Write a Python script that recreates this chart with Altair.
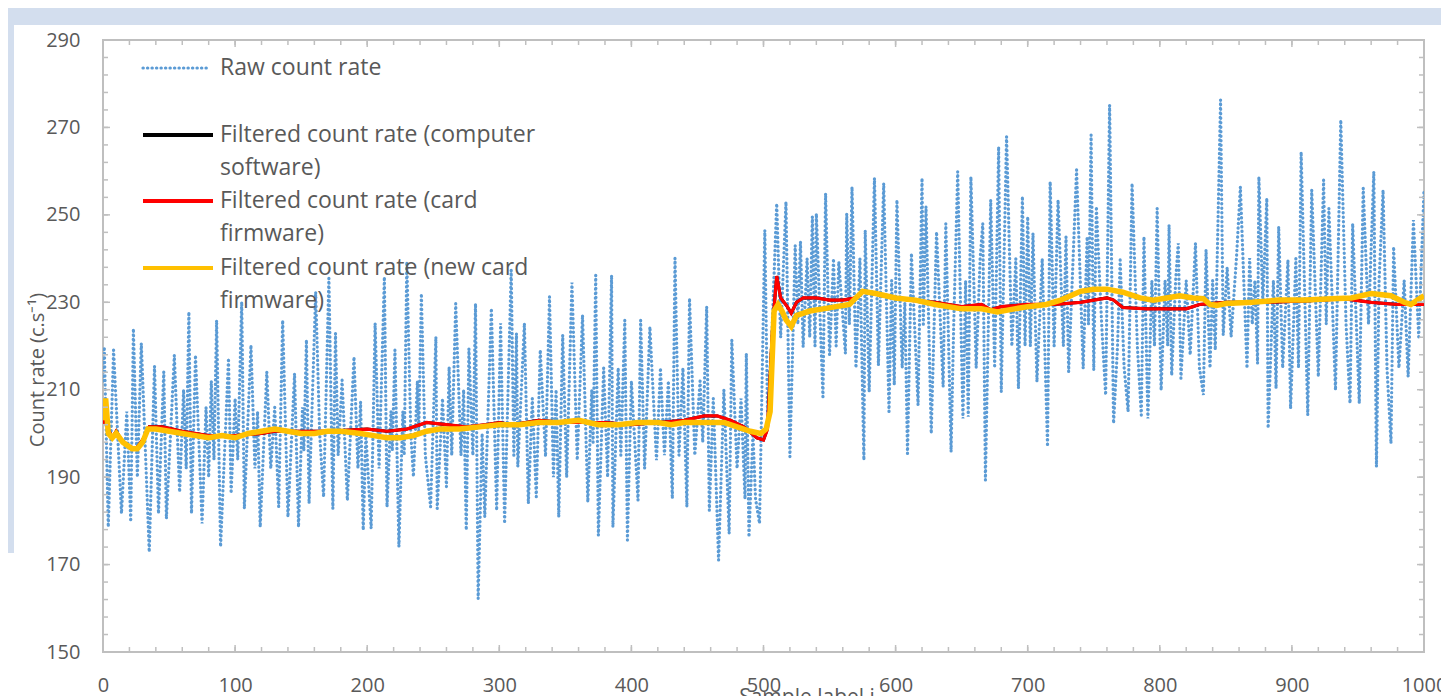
import altair as alt
import pandas as pd

# ---------------- data ----------------
raw_x = [0, 1, 4, 8, 14, 18, 21, 23, 26, 29, 35, 39, 42, 46, 48, 54, 58, 61, 63, 65, 67, 70, 75, 78, 80, 82, 84, 86, 89, 95,
         97, 100, 102, 105, 107, 112, 115, 117, 119, 124, 127, 130, 133, 136, 140, 145, 148, 151, 152, 154, 156, 161, 164, 167,
         171, 174, 176, 178, 181, 185, 190, 193, 195, 197, 199, 203, 206, 209, 213, 215, 218, 219, 221, 224, 227, 228, 230, 233,
         235, 238, 239, 241, 244, 248, 252, 253, 257, 260, 262, 264, 267, 271, 273, 275, 277, 280, 282, 284, 287, 289, 294, 298,
         301, 304, 309, 311, 313, 314, 319, 322, 325, 328, 331,
         335, 338, 341, 343, 345, 348, 351, 355, 359, 363, 367, 370, 371, 373, 375, 379, 382, 385, 386, 390, 392, 395, 397, 400,
         405, 407, 410, 414, 419, 422, 425, 428, 431, 433, 436, 439, 442, 444, 448, 452, 454, 457, 459, 462, 466, 470, 474, 476,
         480, 483, 486, 487, 489, 492, 494, 497, 501, 503,
         506, 510, 513, 517, 520, 524, 526, 528, 530, 533, 535, 537, 539, 540, 545, 547, 550, 553, 555, 557, 562, 563, 565, 567,
         570, 573, 576, 577, 580, 584, 587, 591, 595, 597, 599, 601, 605, 607, 609, 612, 617, 620, 621, 623, 627, 631, 636, 638,
         642, 644, 647, 651, 653, 655, 657, 661, 664, 666, 668,
         672, 675, 678, 680, 684, 688, 691, 693, 696, 698, 700, 702, 704, 707, 711, 715, 717, 720, 723, 727, 729, 731, 737, 742,
         745, 746, 748, 750, 752, 756, 759, 762, 765, 768, 770, 773, 776, 779, 783, 786, 788, 791, 794, 796, 798, 801, 804, 806,
         807, 809, 812, 814, 816, 820, 823, 827, 830, 833,
         835, 838, 840, 842, 846, 848, 851, 854, 858, 861, 866, 868, 870, 872, 874, 875, 878, 881, 882, 886, 888, 890, 893, 897,
         899, 903, 905, 907, 912, 915, 920, 924, 926, 928, 933, 937, 941, 944, 946, 951, 954, 958, 962, 964, 966, 969, 972, 975,
         977, 981, 985, 988, 992, 996, 1000]
raw_y = [212, 219.8, 178.6, 219.1, 181.7, 205, 179.8, 224.0, 190, 220.6, 172.9, 215.4, 181.7, 214.1, 180.5, 217.9, 186.6, 210,
         192, 227.8, 181.7, 217.9, 179.4, 206, 190, 212, 194, 225.9, 174.1, 217.2,
         186.3, 208, 194, 230.1, 182.8, 220.2, 192, 205, 178.6, 214.1, 192, 206, 183.2, 225.9, 180.9, 213.7, 178.6, 206, 196,
         221.4, 184.0, 232.4, 200, 185.5,
         235.5, 182.8, 222.9, 195, 212.2, 184.7, 217.5, 192, 207.2, 177.9, 200, 178.3, 225.2, 192, 235.8, 183.2, 205, 196, 219.1,
         174.1, 205, 195, 239.3, 200,
         190.1, 212, 200, 232.0, 195, 183.2, 222.1, 182.8, 208, 187.8, 215.2, 195, 229.7, 195, 210, 177.9, 219.4, 195, 229.7,
         162.2, 200, 180.9, 228.6, 182.4,
         225.2, 179.4, 237.4, 195, 222.9, 192.4, 225.2, 184.0, 208, 185.5, 219.1,
         194.7, 231.3, 190, 210, 180.9, 222.5, 190, 234.5, 193.9, 227.1, 184.3, 210, 198, 236.2, 176.7, 215, 190, 236.2, 178.6,
         215, 195, 225.9, 175.6, 212,
         184.7, 225.9, 192, 224.4, 193.9, 215, 195, 212, 185.1, 240.1, 195, 215, 183.2, 230.9, 195, 212, 198, 229.0, 182.4, 208,
         171.0, 210, 177.1, 221.4,
         192, 208, 185, 218.3, 176.3, 200, 185, 179.4, 246.5, 205,
         220, 252.6, 222, 253.0, 194.7, 243.0, 225, 243.9, 219.8, 240, 222, 249.6, 220, 250.3, 208.4, 254.9, 218, 240, 220, 239.3,
         218.3, 250.3, 225, 256.4,
         215, 240, 193.9, 246.5, 209.5, 258.4, 215.6, 257.2, 205.0, 235, 211.1, 253.4, 215, 230, 195.4, 241.2, 206.5, 258.4, 225,
         251.9, 200.0, 246.1, 210.7, 248.0,
         195.8, 225, 259.9, 203.4, 235, 203.8, 258.7, 215, 240, 248.0, 189.3,
         253.4, 215, 265.6, 209.5, 267.9, 220, 240, 210.3, 254.2, 220, 249.6, 220, 245.8, 211.8, 240, 197.0, 257.6, 220, 253.4,
         220, 245.0, 214.1, 260.3, 214.9,
         245, 225, 268.3, 214.5, 251.9, 225, 208.8, 275.1, 202.3, 220, 239.7, 215, 205.0, 257.2, 220, 204.2, 245.0, 203.4, 235,
         220, 251.5, 209.9, 235, 220,
         247.7, 213.3, 235, 243.5, 212.6, 235, 218, 243.5, 215, 208.8,
         242.0, 215, 235, 219.1, 276.3, 222.5, 238, 222.1, 240, 256.4, 214.9, 240.1, 225, 235, 216.0, 258.7, 230, 253.8, 201.2,
         235, 210.3, 247.3, 215, 239.7,
         205.7, 240, 215, 264.4, 204.2, 255.7, 213.0, 258.0, 225, 251.5, 209.9, 271.7, 225, 206.9, 248.0, 206.9, 256.1, 225,
         259.9, 192.4, 235, 255.7, 215, 197.7,
         242.7, 215, 235, 213.0, 248.8, 222.1, 255.7]

card_x = [0, 2, 4, 7, 10, 14, 20, 25, 30, 35, 45, 60, 80, 100, 120, 130, 150, 170, 200, 215,
          230, 245, 260, 275, 290, 300, 310, 320, 330, 350, 380, 400, 420, 440, 455, 465, 475, 485, 495, 500,
          503, 507, 510, 513, 518, 521, 525, 530, 540, 550, 560, 570, 575, 590, 610, 630, 650, 665, 672, 680,
          700, 720, 740, 760, 765, 772, 790, 820, 830, 850, 880, 910, 940, 960, 980, 1000]
card_y = [202, 207.5, 201, 199, 200.5, 198.5, 197, 196.5, 198.5, 201.5, 201.5, 200.5, 199.5, 199.5, 200, 200.5, 200.5,
          200.5, 201, 200.5,
          201, 202.5, 202, 201.5, 202, 202.5, 202, 202.5, 203, 202.5, 202.5, 202, 202.5, 203, 204, 204, 203, 201.5, 199,
          198.5,
          201, 225, 236, 231, 229, 227.5, 230, 231, 231, 230.5, 230.5, 231, 232.5, 231.5, 230.5, 230, 229, 229.5, 228.3, 229,
          229.5, 229.5, 230, 231, 230.5, 228.8, 228.5, 228.5, 229.5, 230, 230, 230.3, 230.8, 230, 229.5, 229.5]

# computer-software filter coincides with the card firmware one (hidden beneath it)
soft_x = list(card_x)
soft_y = list(card_y)

new_x = [0, 2, 4, 7, 10, 15, 22, 26, 30, 34, 40, 50, 60, 70, 80, 90, 100, 110, 120, 130, 140, 150, 160, 170, 180, 195,
         205, 215, 225, 235, 245, 255, 270, 285, 300, 315, 330, 345, 360, 375, 390, 405, 420, 430, 440, 455, 470, 480, 490,
         498, 502, 505, 508, 511, 514, 517, 521, 525, 535, 545, 555, 565, 570, 575, 585, 600, 615, 630, 650, 665, 677, 690,
         700, 714, 725, 740, 750, 760, 772, 785, 795, 805, 815, 825, 833, 838, 843, 850, 870, 890, 910, 930, 945, 960, 975,
         985, 990, 995, 1000]
new_y = [203, 208, 200, 199, 200, 198, 196.5, 196.5, 198, 201, 201, 200.5, 200, 199.5, 199, 199.5, 199, 200, 200.5, 201,
         200.5, 200, 200, 200.5, 200.5, 200,
         199.5, 199, 199, 199.5, 200.5, 201, 201, 201.5, 202, 202, 202.5, 202.5, 203, 202, 202, 202.5, 202.5, 202, 202.5,
         202.5, 202.5, 201.5, 200.5,
         200, 201, 205, 228, 229.5, 228, 226, 224.5, 227, 228, 228.5, 229, 229.5, 231, 232.5, 232, 231, 230.5, 229.5, 228.5,
         228.5, 227.8, 228.5,
         229, 229.5, 230.5, 232.5, 233, 233, 232.3, 231, 230.5, 231, 231.5, 231, 230.8, 229.5, 229.3, 229.7, 230, 230.5,
         230.5, 230.8, 231, 232, 231.5,
         230, 229.5, 230.5, 231.5]

x_label_values = list(range(0, 1001, 100))
y_label_values = list(range(150, 291, 20))
x_minor = list(range(0, 1001, 20))
y_minor = list(range(150, 291, 4))

# ---------------- styling ----------------
W, H = 1321, 612
GRAY = "#595959"
FRAME = "#BFBFBF"
FONT = "Open Sans"
BLUE = "#5B9BD5"
RED = "#FF0000"
GOLD = "#FFC000"
BAND = "#D3DEEE"

xs = alt.Scale(domain=[0, 1000], nice=False, zero=False)
ys = alt.Scale(domain=[150, 290], nice=False, zero=False)
x_axis = alt.Axis(values=x_label_values, title=None, domain=False, ticks=False, tickSize=0, grid=False,
                  format="d", labelFlush=False, labelOverlap=False,
                  labelFont=FONT, labelFontSize=20, labelColor=GRAY, labelPadding=23)
y_axis = alt.Axis(values=y_label_values, title=None, domain=False, ticks=False, tickSize=0, grid=False,
                  format="d", labelFlush=False, labelOverlap=False,
                  labelFont=FONT, labelFontSize=20, labelColor=GRAY, labelPadding=23)


def X(f):
    return alt.X(f, type="quantitative", scale=xs, axis=x_axis)


def Y(f):
    return alt.Y(f, type="quantitative", scale=ys, axis=y_axis)


one = pd.DataFrame({"k": [0]})

raw_df = pd.DataFrame({"i": raw_x, "v": raw_y})
soft_df = pd.DataFrame({"i": soft_x, "v": soft_y})
card_df = pd.DataFrame({"i": card_x, "v": card_y})
new_df = pd.DataFrame({"i": new_x, "v": new_y})

DOT = dict(color=BLUE, strokeWidth=3.2, strokeDash=[0.3, 4.2], strokeCap="round")
raw = alt.Chart(raw_df).mark_line(clip=True, **DOT).encode(x=X("i"), y=Y("v"))
soft = alt.Chart(soft_df).mark_line(color="#000000", strokeWidth=3, clip=True).encode(x=X("i"), y=Y("v"))
card = alt.Chart(card_df).mark_line(color=RED, strokeWidth=3.2, clip=True).encode(x=X("i"), y=Y("v"))
new = alt.Chart(new_df).mark_line(color=GOLD, strokeWidth=5.5, clip=True).encode(x=X("i"), y=Y("v"))

# inward tick marks on all four sides
xt = pd.DataFrame({"t": x_minor})
yt = pd.DataFrame({"t": y_minor})
xmaj = pd.DataFrame({"t": x_label_values})
ymaj = pd.DataFrame({"t": y_label_values})
tick_layers = [
    alt.Chart(xt).mark_rule(color=FRAME, strokeWidth=1.5).encode(x=X("t"), y=alt.value(H), y2=alt.value(H - 5)),
    alt.Chart(xmaj).mark_rule(color=FRAME, strokeWidth=1.5).encode(x=X("t"), y=alt.value(H), y2=alt.value(H - 7)),
    alt.Chart(xt).mark_rule(color=FRAME, strokeWidth=1.5).encode(x=X("t"), y=alt.value(0), y2=alt.value(5)),
    alt.Chart(xmaj).mark_rule(color=FRAME, strokeWidth=1.5).encode(x=X("t"), y=alt.value(0), y2=alt.value(7)),
    alt.Chart(yt).mark_rule(color=FRAME, strokeWidth=1.5).encode(y=Y("t"), x=alt.value(0), x2=alt.value(5)),
    alt.Chart(ymaj).mark_rule(color=FRAME, strokeWidth=1.5).encode(y=Y("t"), x=alt.value(0), x2=alt.value(7)),
    alt.Chart(yt).mark_rule(color=FRAME, strokeWidth=1.5).encode(y=Y("t"), x=alt.value(W), x2=alt.value(W - 5)),
    alt.Chart(ymaj).mark_rule(color=FRAME, strokeWidth=1.5).encode(y=Y("t"), x=alt.value(W), x2=alt.value(W - 7)),
]

# page decoration bands (blue-grey slide background)
band_top = alt.Chart(one).mark_rect(color=BAND).encode(
    x=alt.value(-95), x2=alt.value(W + 17), y=alt.value(-32), y2=alt.value(-15))
band_left = alt.Chart(one).mark_rect(color=BAND).encode(
    x=alt.value(-95), x2=alt.value(-89), y=alt.value(-15), y2=alt.value(513))

# legend (inside plot, top-left)
LX0, LX1, TX = 40, 110, 117
leg = [
    alt.Chart(one).mark_rule(**DOT).encode(x=alt.value(LX0), x2=alt.value(104), y=alt.value(28)),
    alt.Chart(one).mark_rule(color="#000000", strokeWidth=4).encode(x=alt.value(LX0), x2=alt.value(LX1), y=alt.value(95)),
    alt.Chart(one).mark_rule(color=RED, strokeWidth=4).encode(x=alt.value(LX0), x2=alt.value(LX1), y=alt.value(161)),
    alt.Chart(one).mark_rule(color=GOLD, strokeWidth=4).encode(x=alt.value(LX0), x2=alt.value(LX1), y=alt.value(228)),
]
leg_text = [("Raw count rate", 28), ("Filtered count rate (computer", 95), ("software)", 128),
            ("Filtered count rate (card", 161), ("firmware)", 194),
            ("Filtered count rate (new card", 228), ("firmware)", 261)]
for txt, yy in leg_text:
    leg.append(alt.Chart(one).mark_text(text=txt, align="left", baseline="middle", font=FONT, fontSize=23,
                                        color=GRAY).encode(x=alt.value(TX), y=alt.value(yy)))

y_title = alt.Chart(one).mark_text(text="Count rate (c.s⁻¹)", angle=270, align="center", baseline="middle",
                                   font=FONT, fontSize=20, color=GRAY).encode(x=alt.value(-65), y=alt.value(330))
x_title = alt.Chart(one).mark_text(text="Sample label i", align="center", baseline="top",
                                   font=FONT, fontSize=21, color=GRAY).encode(x=alt.value(704), y=alt.value(647))

chart = alt.layer(
    band_top, band_left, raw, soft, card, new, *tick_layers, *leg, y_title, x_title
).properties(
    width=W, height=H,
    autosize=alt.AutoSizeParams(type="none"),
    padding={"left": 95, "top": 32, "right": 17, "bottom": 48},
    background="white",
).configure_view(stroke=FRAME, strokeWidth=2)

chart.save("out.html", embed_options={"renderer": "svg", "actions": False})
